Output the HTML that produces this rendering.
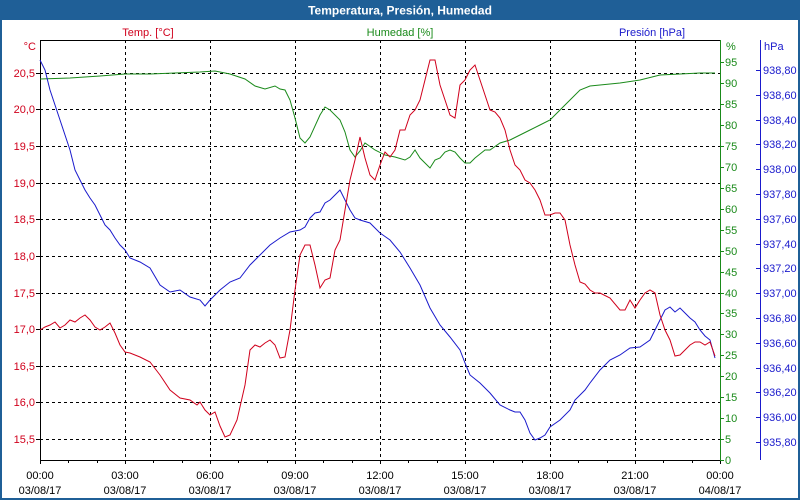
<!DOCTYPE html>
<html><head><meta charset="utf-8"><style>
html,body{margin:0;padding:0;background:#fff;}
svg{display:block;font-family:"Liberation Sans","DejaVu Sans",sans-serif;}
</style></head><body>
<svg width="800" height="500" viewBox="0 0 800 500" xmlns="http://www.w3.org/2000/svg">
<rect x="0" y="0" width="800" height="500" fill="#fff"/>
<rect x="0" y="0" width="800" height="20" fill="#1f5f97"/>
<rect x="0" y="0" width="2" height="500" fill="#1f5f97"/>
<rect x="798" y="0" width="2" height="500" fill="#1f5f97"/>
<rect x="0" y="498" width="800" height="2" fill="#1f5f97"/>
<text x="400" y="14.5" fill="#fff" font-size="12" font-weight="bold" text-anchor="middle">Temperatura, Presión, Humedad</text>

<g font-size="11">
<text x="148" y="36" fill="#d0001c" text-anchor="middle">Temp. [°C]</text>
<text x="400" y="36" fill="#1a8a1a" text-anchor="middle">Humedad [%]</text>
<text x="652" y="36" fill="#1a1acc" text-anchor="middle">Presión [hPa]</text>
<text x="36" y="50" fill="#d0001c" text-anchor="end">°C</text>
<text x="726" y="50" fill="#1a8a1a">%</text>
<text x="764" y="50" fill="#1a1acc">hPa</text>
</g>

<!-- grid -->
<g stroke="#000" stroke-width="1" stroke-dasharray="3,3">
<line x1="125.5" y1="40" x2="125.5" y2="460"/>
<line x1="210.5" y1="40" x2="210.5" y2="460"/>
<line x1="295.5" y1="40" x2="295.5" y2="460"/>
<line x1="380.5" y1="40" x2="380.5" y2="460"/>
<line x1="465.5" y1="40" x2="465.5" y2="460"/>
<line x1="550.5" y1="40" x2="550.5" y2="460"/>
<line x1="635.5" y1="40" x2="635.5" y2="460"/>
<line x1="40" y1="73.5" x2="720" y2="73.5"/>
<line x1="40" y1="109.5" x2="720" y2="109.5"/>
<line x1="40" y1="146.5" x2="720" y2="146.5"/>
<line x1="40" y1="183.5" x2="720" y2="183.5"/>
<line x1="40" y1="219.5" x2="720" y2="219.5"/>
<line x1="40" y1="256.5" x2="720" y2="256.5"/>
<line x1="40" y1="293.5" x2="720" y2="293.5"/>
<line x1="40" y1="329.5" x2="720" y2="329.5"/>
<line x1="40" y1="366.5" x2="720" y2="366.5"/>
<line x1="40" y1="402.5" x2="720" y2="402.5"/>
<line x1="40" y1="439.5" x2="720" y2="439.5"/>
</g>

<!-- axes -->
<line x1="40.5" y1="40" x2="40.5" y2="461" stroke="#000"/>
<line x1="40" y1="40.5" x2="720" y2="40.5" stroke="#000"/>
<line x1="40" y1="460.5" x2="720" y2="460.5" stroke="#000"/>
<line x1="720.5" y1="40" x2="720.5" y2="461" stroke="#1a8a1a"/>
<line x1="760.5" y1="40" x2="760.5" y2="460" stroke="#1a1acc"/>

<!-- bottom ticks -->
<g stroke="#000">
<path d="M40.5 460v4M68.5 460v3M97.5 460v3M125.5 460v4M153.5 460v3M182.5 460v3M210.5 460v4M238.5 460v3M267.5 460v3M295.5 460v4M323.5 460v3M352.5 460v3M380.5 460v4M408.5 460v3M437.5 460v3M465.5 460v4M493.5 460v3M522.5 460v3M550.5 460v4M578.5 460v3M607.5 460v3M635.5 460v4M663.5 460v3M692.5 460v3M720.5 460v4"/>
<path d="M36 73.5h4M36 109.5h4M36 146.5h4M36 183.5h4M36 219.5h4M36 256.5h4M36 293.5h4M36 329.5h4M36 366.5h4M36 402.5h4M36 439.5h4"/>
</g>
<g stroke="#1a8a1a">
<path d="M720 460.5h4M720 439.5h4M720 418.5h4M720 397.5h4M720 376.5h4M720 355.5h4M720 334.5h4M720 313.5h4M720 293.5h4M720 272.5h4M720 251.5h4M720 230.5h4M720 209.5h4M720 188.5h4M720 167.5h4M720 146.5h4M720 125.5h4M720 104.5h4M720 83.5h4M720 62.5h4"/>
</g>
<g stroke="#1a1acc">
<path d="M756 70.5h4M756 95.5h4M756 120.5h4M756 144.5h4M756 169.5h4M756 194.5h4M756 219.5h4M756 244.5h4M756 268.5h4M756 293.5h4M756 318.5h4M756 343.5h4M756 368.5h4M756 392.5h4M756 417.5h4M756 442.5h4"/>
</g>

<!-- left labels -->
<g font-size="11" fill="#d0001c" text-anchor="end">
<text x="35" y="77">20,5</text><text x="35" y="113">20,0</text><text x="35" y="150">19,5</text>
<text x="35" y="187">19,0</text><text x="35" y="223">18,5</text><text x="35" y="260">18,0</text>
<text x="35" y="297">17,5</text><text x="35" y="333">17,0</text><text x="35" y="370">16,5</text>
<text x="35" y="406">16,0</text><text x="35" y="443">15,5</text>
</g>
<g font-size="11" fill="#1a8a1a">
<text x="725" y="464">0</text><text x="725" y="443">5</text><text x="725" y="422">10</text>
<text x="725" y="401">15</text><text x="725" y="380">20</text><text x="725" y="359">25</text>
<text x="725" y="338">30</text><text x="725" y="317">35</text><text x="725" y="297">40</text>
<text x="725" y="276">45</text><text x="725" y="255">50</text><text x="725" y="234">55</text>
<text x="725" y="213">60</text><text x="725" y="192">65</text><text x="725" y="171">70</text>
<text x="725" y="150">75</text><text x="725" y="129">80</text><text x="725" y="108">85</text>
<text x="725" y="87">90</text><text x="725" y="66">95</text>
</g>
<g font-size="11" fill="#1a1acc">
<text x="763" y="74">938,80</text><text x="763" y="99">938,60</text><text x="763" y="124">938,40</text>
<text x="763" y="148">938,20</text><text x="763" y="173">938,00</text><text x="763" y="198">937,80</text>
<text x="763" y="223">937,60</text><text x="763" y="248">937,40</text><text x="763" y="272">937,20</text>
<text x="763" y="297">937,00</text><text x="763" y="322">936,80</text><text x="763" y="347">936,60</text>
<text x="763" y="372">936,40</text><text x="763" y="396">936,20</text><text x="763" y="421">936,00</text>
<text x="763" y="446">935,80</text>
</g>
<g font-size="11" fill="#000" text-anchor="middle">
<text x="40" y="479">00:00</text><text x="40" y="494">03/08/17</text>
<text x="125" y="479">03:00</text><text x="125" y="494">03/08/17</text>
<text x="210" y="479">06:00</text><text x="210" y="494">03/08/17</text>
<text x="295" y="479">09:00</text><text x="295" y="494">03/08/17</text>
<text x="380" y="479">12:00</text><text x="380" y="494">03/08/17</text>
<text x="465" y="479">15:00</text><text x="465" y="494">03/08/17</text>
<text x="550" y="479">18:00</text><text x="550" y="494">03/08/17</text>
<text x="635" y="479">21:00</text><text x="635" y="494">03/08/17</text>
<text x="720" y="479">00:00</text><text x="720" y="494">04/08/17</text>
</g>

<!-- series -->
<polyline fill="none" stroke="#1a8a1a" stroke-width="1" points="40,79 70,78 100,76 125,74 150,74 175,73 200,72 215,71 230,74 245,79 255,86 265,89 275,86 280,89 285,90 290,100 295,118 300,138 305,143 310,137 320,115 325,107 330,110 340,120 345,132 350,150 355,157 360,151 365,143 375,150 385,155 395,157 405,160 410,157 415,150 420,158 425,163 430,168 435,160 440,158 445,152 450,150 455,152 460,158 465,163 470,163 475,158 485,150 490,150 500,143 510,140 520,135 530,130 540,125 550,120 555,115 560,110 570,100 580,90 590,86 600,85 620,83 640,80 660,75 680,74 700,73 715,73"/>
<polyline fill="none" stroke="#1a1acc" stroke-width="1" points="40,60 45,70 50,90 55,105 60,120 65,135 70,150 75,170 80,180 85,190 90,198 95,205 100,215 105,225 110,230 115,238 120,245 125,250 130,258 140,262 150,268 160,285 170,292 180,290 190,297 200,300 205,306 210,300 215,295 220,290 230,282 240,278 250,265 260,255 270,245 280,238 290,232 300,230 305,227 310,218 315,213 320,212 325,203 330,200 335,195 340,190 345,200 350,210 355,218 360,220 370,223 375,228 380,233 390,240 400,252 410,268 420,285 430,308 440,325 450,337 460,350 465,363 470,375 480,383 490,393 500,405 510,410 515,412 520,412 525,420 530,433 535,440 540,438 545,435 550,427 560,420 570,410 575,400 585,390 590,383 600,370 610,360 620,355 630,348 640,347 650,340 655,330 660,320 665,310 670,307 675,312 680,308 685,313 690,318 695,322 700,330 705,336 710,340 715,358"/>
<polyline fill="none" stroke="#d0001c" stroke-width="1" points="40,330 45,327 50,325 55,322 60,328 65,325 70,320 75,322 80,318 85,315 90,320 95,327 100,330 105,327 110,323 115,333 120,345 125,352 130,353 140,357 150,362 160,375 170,390 180,398 190,400 197,405 200,402 205,410 210,415 215,412 220,426 225,437 230,435 237,420 245,385 250,350 255,345 260,347 265,343 270,340 275,345 280,358 285,357 290,330 295,290 300,255 305,245 310,245 315,265 320,288 325,280 330,278 335,250 340,240 345,210 350,180 355,160 360,137 365,158 370,175 375,180 380,165 385,152 390,157 395,150 400,130 405,130 410,115 415,110 420,100 425,80 430,60 435,60 440,85 445,100 450,115 455,118 460,85 465,80 470,70 475,65 480,80 485,95 490,110 495,112 500,118 505,130 510,150 515,165 520,170 525,180 530,183 535,190 540,200 545,215 550,215 555,213 560,213 565,220 570,245 575,265 580,282 585,284 590,290 595,293 600,293 610,298 620,310 625,310 630,300 635,308 640,300 645,293 650,290 655,293 660,315 665,330 670,340 675,356 680,355 685,350 690,345 695,342 700,342 705,345 710,342 715,356"/>
</svg>
</body></html>
